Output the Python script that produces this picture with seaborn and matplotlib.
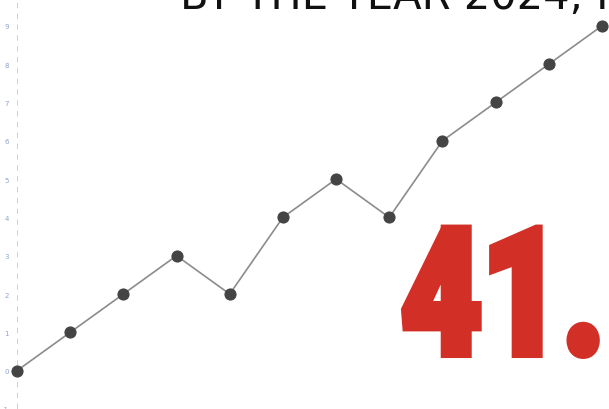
import matplotlib
matplotlib.use('Agg')
import matplotlib.pyplot as plt
import numpy as np
import pandas as pd
import seaborn as sns
from matplotlib.patheffects import AbstractPathEffect
from matplotlib.transforms import Affine2D

# values (one step = one grid unit)
periods = list(range(12))
values = [0, 1, 2, 3, 2, 4, 5, 4, 6, 7, 8, 9]
ytick_values = list(range(-1, 10))
ytick_labels = [str(v) for v in ytick_values]

title_text = 'BY THE YEAR 2024, IN'
big_number = '41.'


class Condensed(AbstractPathEffect):
    """squeeze a text horizontally and thicken it with a stroke of its own colour"""

    def __init__(self, sx=0.78, stroke=5.0):
        super().__init__()
        self.sx = sx
        self.stroke = stroke

    def draw_path(self, renderer, gc, tpath, affine, rgbFace):
        aff = Affine2D().scale(self.sx, 1.0) + affine
        gc0 = renderer.new_gc()
        gc0.copy_properties(gc)
        gc0.set_linewidth(self.stroke)
        gc0.set_foreground(rgbFace)
        gc0.set_joinstyle('miter')
        renderer.draw_path(gc0, tpath, aff, rgbFace)
        gc0.restore()


df = pd.DataFrame({'period': periods, 'value': values})

sns.set_style('white')
plt.rcParams['font.family'] = ['DejaVu Sans']

fig = plt.figure(figsize=(6.09, 4.10), dpi=100)
ax = fig.add_axes([17 / 609, 0, 592 / 609, 1])

ax.axvline(0, color='#cccccc', lw=1.3, dashes=(3, 3), zorder=0)

sns.lineplot(data=df, x='period', y='value', ax=ax, color='#8c8c8c', lw=1.2,
             marker='o', markersize=8, markerfacecolor='#444444',
             markeredgecolor='#444444', clip_on=False, zorder=3)

ax.set_xlim(0, 592 / 53.18)
ax.set_ylim(-36 / 38.56, 9 + 27 / 38.56)
for s in ax.spines.values():
    s.set_visible(False)
ax.set_xticks([])
ax.set_yticks(ytick_values)
ax.set_yticklabels(ytick_labels, fontsize=5, color='#5b7db8', alpha=0.7)
ax.tick_params(axis='y', length=0, pad=6)
ax.set_xlabel('')
ax.set_ylabel('')

# headline, mostly cut off by the top edge
fig.text(180 / 609, 1 - 9 / 410, title_text, fontsize=30, color='#111111',
         ha='left', va='baseline', family='DejaVu Sans')

# big red figure, heavy and condensed
fig.text(401 / 609, 1 - 355 / 410, big_number, fontsize=127, color='#d22f27',
         ha='left', va='baseline', family=['Roboto', 'Liberation Sans'],
         fontweight='black', path_effects=[Condensed(0.79, 5.8)])

fig.savefig('out.png', dpi=100)
